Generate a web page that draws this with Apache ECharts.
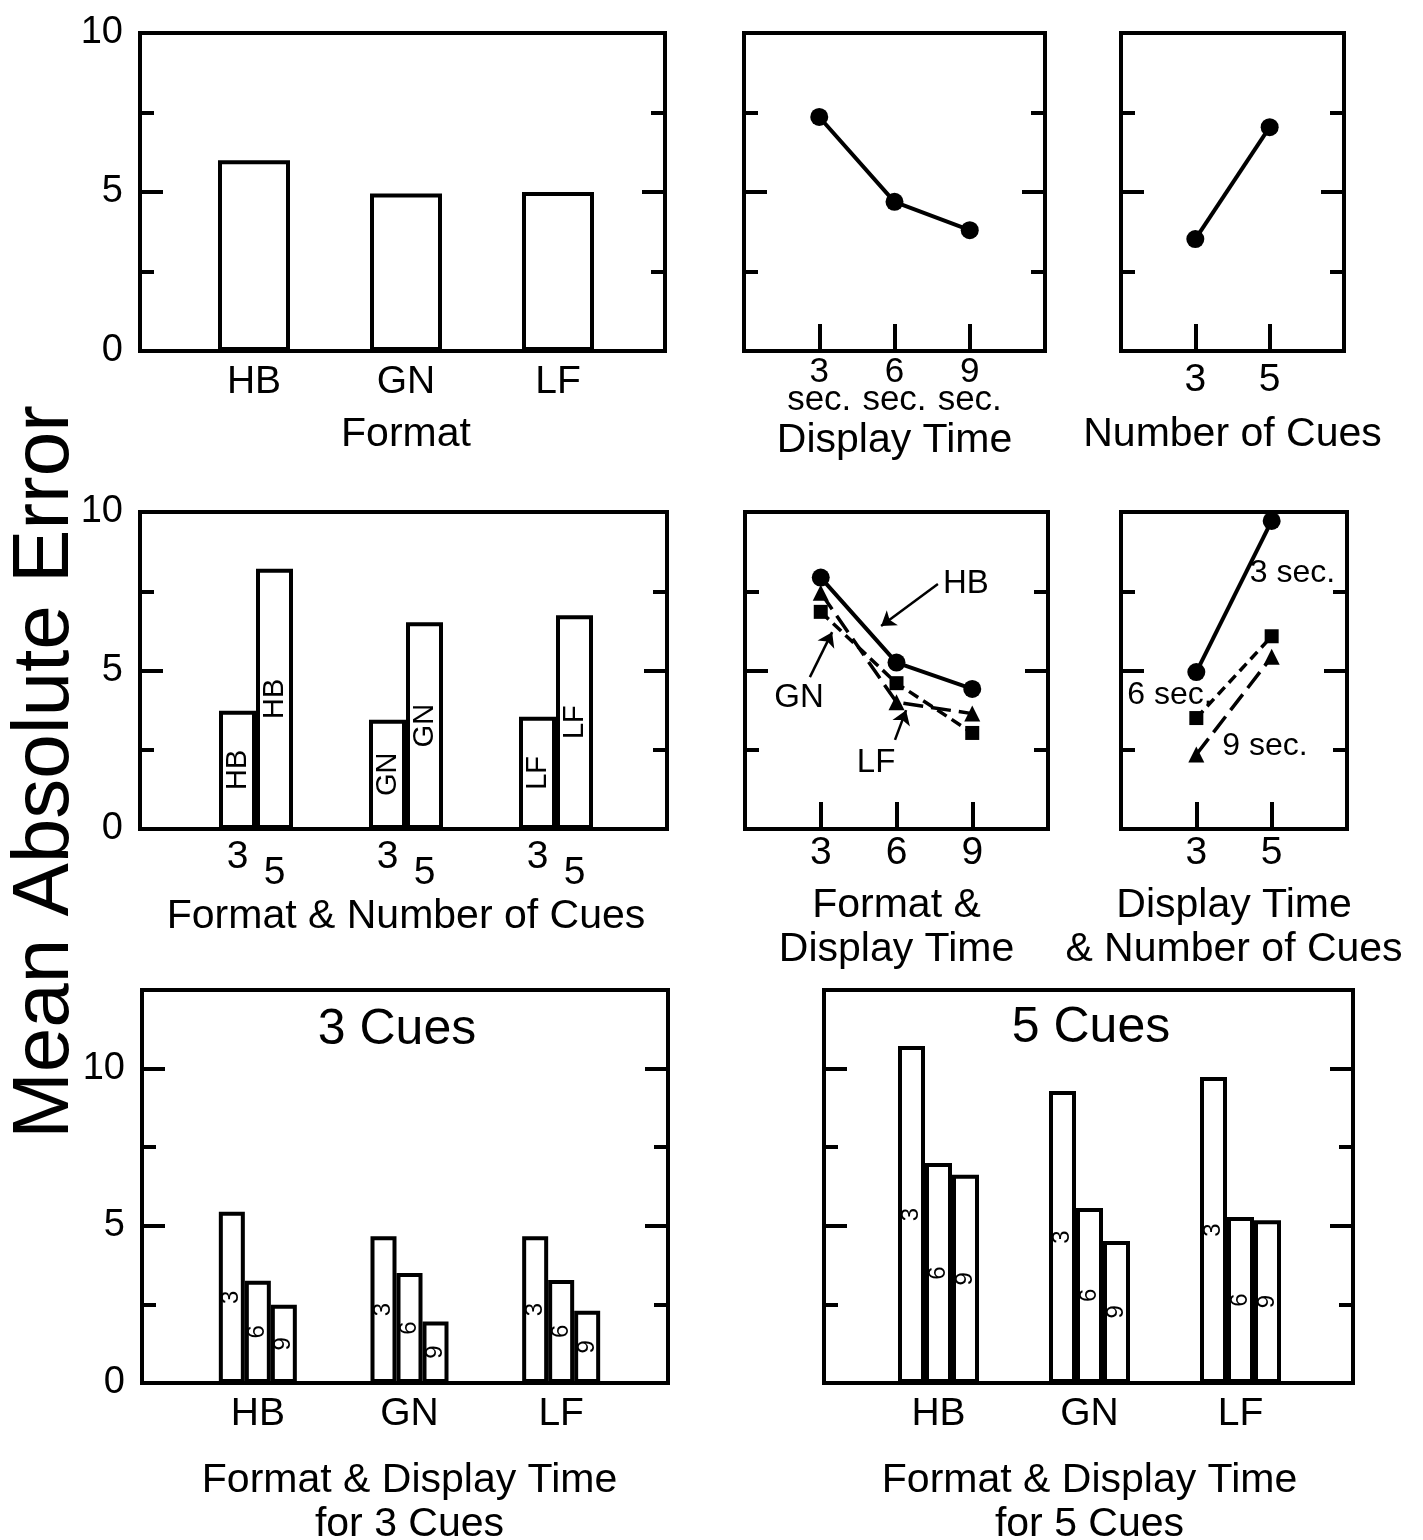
<!DOCTYPE html>
<html>
<head>
<meta charset="utf-8">
<title>Mean Absolute Error</title>
<script src="https://cdn.jsdelivr.net/npm/echarts@6.0.0/dist/echarts.min.js"></script>
<style>
  html, body { margin: 0; padding: 0; background: #fff; }
  #chart { width: 1423px; height: 1540px; }
</style>
</head>
<body>
<div id="chart"></div>
<script>
// ---- values ----
const formats = ["HB", "GN", "LF"];
const displayTimes = [3, 6, 9];
const cueCounts = [3, 5];
const yTickLabels = [0, 5, 10];

// row 1
const errorByFormat = [6.0, 4.95, 5.0];
const errorByTime = [7.36, 4.69, 3.8];
const errorByCues = [3.52, 7.04];

// row 2
const errorFormat3Cues = [3.73, 3.45, 3.54];
const errorFormat5Cues = [8.21, 6.52, 6.74];
const errorTimeHB = [7.93, 5.25, 4.42];
const errorTimeGN = [6.85, 4.6, 3.03];
const errorTimeLF = [7.45, 4.0, 3.64];
const errorCues3Sec = [4.95, 9.72];
const errorCues6Sec = [3.5, 6.08];
const errorCues9Sec = [2.35, 5.43];

// row 3 (one array per display time, indexed by format)
const cues3Time3 = [5.45, 4.67, 4.67];
const cues3Time6 = [3.25, 3.5, 3.28];
const cues3Time9 = [2.49, 1.96, 2.3];
const cues5Time3 = [10.72, 9.29, 9.73];
const cues5Time6 = [7.0, 5.57, 5.28];
const cues5Time9 = [6.62, 4.52, 5.18];

// ---- helpers ----
const FONT = '"Liberation Sans", Arial, Helvetica, sans-serif';
const INK = "#000";
const RULE = 4; // frame, bar outline and tick thickness

const grid = [];
const xAxis = [];
const yAxis = [];
const series = [];

const nameStyle = { color: INK, fontFamily: FONT, fontSize: 41, lineHeight: 44 };
const tickLabelStyle = { color: INK, fontFamily: FONT, fontSize: 39, lineHeight: 40 };
const barStyle = { color: "#fff", borderColor: INK, borderWidth: RULE };

function addGrid(left, top, width, height, framed) {
  grid.push({
    left, top, width, height,
    show: framed, borderColor: INK, borderWidth: RULE, backgroundColor: "transparent",
    containLabel: false, outerBoundsMode: "none",
  });
  return grid.length - 1;
}

// major ticks every 5 (labels on the left when asked), minor ticks at 2.5 / 7.5, both sides
function addFrameY(g, ymax, labels) {
  const first = yAxis.length;
  ["left", "right"].forEach((pos) => {
    yAxis.push({
      gridIndex: g, type: "value", position: pos, min: 0, max: ymax, interval: 5,
      axisLine: { show: false }, splitLine: { show: false },
      axisTick: { inside: true, length: 23, lineStyle: { color: INK, width: RULE } },
      axisLabel: {
        show: labels && pos === "left", margin: 17, ...tickLabelStyle, fontSize: 38,
        formatter: (v) => (yTickLabels.includes(v) ? String(v) : ""),
      },
    });
    yAxis.push({
      gridIndex: g, type: "value", position: pos, min: 0, max: ymax,
      axisLine: { show: false }, splitLine: { show: false }, axisLabel: { show: false },
      axisTick: { inside: true, length: 14, customValues: [2.5, 7.5], lineStyle: { color: INK, width: RULE } },
    });
  });
  return first;
}

function addHiddenX(g) {
  xAxis.push({ gridIndex: g, type: "value", show: false, min: 0, max: 1 });
  return xAxis.length - 1;
}

function addHiddenY(g, ymax) {
  yAxis.push({ gridIndex: g, type: "value", show: false, min: 0, max: ymax });
  return yAxis.length - 1;
}

function addCategoryX(g, label, name, nameGap) {
  xAxis.push({
    gridIndex: g, type: "category", position: "bottom", data: formats,
    axisLine: { show: false }, axisTick: { show: false }, splitLine: { show: false },
    axisLabel: { ...tickLabelStyle, ...label },
    name: name || "", nameLocation: "middle", nameGap: nameGap || 0, nameTextStyle: nameStyle,
  });
  return xAxis.length - 1;
}

function addValueX(g, min, max, ticks, label, name, nameGap) {
  xAxis.push({
    gridIndex: g, type: "value", position: "bottom", min, max,
    axisLine: { show: false }, splitLine: { show: false },
    axisTick: { inside: true, length: 27, customValues: ticks, lineStyle: { color: INK, width: RULE } },
    axisLabel: { customValues: ticks, ...tickLabelStyle, ...label },
    name, nameLocation: "middle", nameGap, nameTextStyle: nameStyle,
  });
  return xAxis.length - 1;
}

function lineSeries(xi, yi, xs, ys, symbol, size, dash, width) {
  return {
    type: "line", xAxisIndex: xi, yAxisIndex: yi,
    data: xs.map((x, i) => [x, ys[i]]),
    symbol, symbolSize: size, showSymbol: true,
    lineStyle: { color: INK, width: width || 3.5, type: dash || "solid" },
    itemStyle: { color: INK },
  };
}

function barLabels(size, texts) {
  return {
    show: true, position: "inside", rotate: 90, color: INK, fontFamily: FONT, fontSize: size,
    formatter: (p) => texts[p.dataIndex],
  };
}

function textMark(name, coord, size) {
  return {
    symbol: "circle", symbolSize: 1, itemStyle: { color: "rgba(0,0,0,0)" },
    label: { show: true, position: "inside", color: INK, fontFamily: FONT, fontSize: size, formatter: "{b}" },
    data: [{ name, coord }],
  };
}

function arrowMark(from, to) {
  return {
    silent: true, symbol: ["none", "arrow"], symbolSize: 14,
    lineStyle: { color: INK, width: 2.5, type: "solid" }, label: { show: false },
    data: [[{ coord: from }, { coord: to }]],
  };
}

// ---- row 1 ----
// Format
const gA = addGrid(140, 33, 525, 318, true);
addFrameY(gA, 10, true);
addHiddenX(gA);
const gAi = addGrid(178, 33, 456, 318, false);
const xA = addCategoryX(gAi, { margin: 11 }, "Format", 62);
const yA = addHiddenY(gAi, 10);
series.push({ type: "bar", xAxisIndex: xA, yAxisIndex: yA, data: errorByFormat, barWidth: 72, itemStyle: barStyle });

// Display Time
const gB = addGrid(744, 33, 301, 318, true);
const yB = addFrameY(gB, 10, false);
const xB = addValueX(gB, 0, 12, displayTimes,
  { fontSize: 35, lineHeight: 28, margin: 7, formatter: (v) => v + "\nsec." }, "Display Time", 62);
series.push(lineSeries(xB, yB, displayTimes, errorByTime, "circle", 18, "solid", 4));

// Number of Cues
const gC = addGrid(1121, 33, 223, 318, true);
const yC = addFrameY(gC, 10, false);
const xC = addValueX(gC, 1, 7, cueCounts, { margin: 9 }, "Number of Cues", 62);
series.push(lineSeries(xC, yC, cueCounts, errorByCues, "circle", 18, "solid", 4));

// ---- row 2 ----
// Format & Number of Cues
const gD = addGrid(140, 512, 527, 317, true);
addFrameY(gD, 10, true);
addHiddenX(gD);
const gDi = addGrid(181, 512, 450, 317, false);
const xD = addCategoryX(gDi, { margin: 8, padding: [0, 37, 0, 0], formatter: () => String(cueCounts[0]) },
  "Format & Number of Cues", 66);
addCategoryX(gDi, { margin: 8, padding: [16, 0, 0, 37], formatter: () => String(cueCounts[1]) });
const yD = addHiddenY(gDi, 10);
series.push({
  type: "bar", xAxisIndex: xD, yAxisIndex: yD, data: errorFormat3Cues, barWidth: 37, barGap: "0%",
  itemStyle: barStyle, label: barLabels(29, formats),
});
series.push({
  type: "bar", xAxisIndex: xD, yAxisIndex: yD, data: errorFormat5Cues, barWidth: 37, barGap: "0%",
  itemStyle: barStyle, label: barLabels(29, formats),
});

// Format & Display Time
const gE = addGrid(745, 512, 303, 317, true);
const yE = addFrameY(gE, 10, false);
const xE = addValueX(gE, 0, 12, displayTimes, { margin: 4 }, "Format &\nDisplay Time", 55);
const hbLine = lineSeries(xE, yE, displayTimes, errorTimeHB, "circle", 18, "solid", 4);
hbLine.markPoint = textMark("HB", [8.75, 7.73], 33);
hbLine.markLine = arrowMark([7.64, 7.73], [5.39, 6.4]);
const gnLine = lineSeries(xE, yE, displayTimes, errorTimeGN, "rect", 14, [11, 6]);
gnLine.markPoint = textMark("GN", [2.14, 4.13], 33);
gnLine.markLine = arrowMark([2.57, 4.79], [3.45, 6.21]);
const lfLine = lineSeries(xE, yE, displayTimes, errorTimeLF, "triangle", 16, [20, 8]);
lfLine.markPoint = textMark("LF", [5.19, 2.08], 33);
lfLine.markLine = arrowMark([5.94, 2.81], [6.38, 3.75]);
series.push(hbLine, gnLine, lfLine);

// Display Time & Number of Cues
const gF = addGrid(1121, 512, 226, 317, true);
const yF = addFrameY(gF, 10, false);
const xF = addValueX(gF, 1, 7, cueCounts, { margin: 4 }, "Display Time\n& Number of Cues", 55);
const sec3Line = lineSeries(xF, yF, cueCounts, errorCues3Sec, "circle", 18, "solid", 4);
sec3Line.markPoint = textMark("3 sec.", [5.55, 8.08], 32);
const sec6Line = lineSeries(xF, yF, cueCounts, errorCues6Sec, "rect", 14, [10, 6]);
sec6Line.markPoint = textMark("6 sec.", [2.3, 4.23], 32);
const sec9Line = lineSeries(xF, yF, cueCounts, errorCues9Sec, "triangle", 16, [20, 8]);
sec9Line.markPoint = textMark("9 sec.", [4.82, 2.62], 32);
series.push(sec3Line, sec6Line, sec9Line);

// ---- row 3 ----
const timeNames = displayTimes.map(String);

function timeBars(xi, yi, rows, width) {
  rows.forEach((row, k) => {
    series.push({
      type: "bar", xAxisIndex: xi, yAxisIndex: yi, data: row, barWidth: width, barGap: "0%",
      itemStyle: barStyle, label: barLabels(24, formats.map(() => timeNames[k])),
    });
  });
}

// 3 cues
const gG = addGrid(142, 990, 526, 393, true);
addFrameY(gG, 12.5, true);
addHiddenX(gG);
const gGi = addGrid(182, 990, 455, 393, false);
const xG = addCategoryX(gGi, { margin: 11 }, "Format & Display Time\nfor 3 Cues", 76);
const yG = addHiddenY(gGi, 12.5);
timeBars(xG, yG, [cues3Time3, cues3Time6, cues3Time9], 26);

// 5 cues
const gH = addGrid(824, 990, 529, 393, true);
addFrameY(gH, 12.5, false);
addHiddenX(gH);
const gHi = addGrid(863, 990, 453, 393, false);
const xH = addCategoryX(gHi, { margin: 11 }, "Format & Display Time\nfor 5 Cues", 76);
const yH = addHiddenY(gHi, 12.5);
timeBars(xH, yH, [cues5Time3, cues5Time6, cues5Time9], 27);

// ---- chart ----
const chart = echarts.init(document.getElementById("chart"), null, { renderer: "canvas" });
chart.setOption({
  animation: false,
  backgroundColor: "#fff",
  grid,
  xAxis,
  yAxis,
  series,
  graphic: [
    {
      type: "text", x: 46, y: 772, rotation: Math.PI / 2,
      style: { text: "Mean Absolute Error", fill: INK, font: "80px " + FONT, align: "center", verticalAlign: "middle" },
    },
    {
      type: "text", x: 397, y: 1030,
      style: { text: "3 Cues", fill: INK, font: "50px " + FONT, align: "center", verticalAlign: "middle" },
    },
    {
      type: "text", x: 1091, y: 1028,
      style: { text: "5 Cues", fill: INK, font: "50px " + FONT, align: "center", verticalAlign: "middle" },
    },
  ],
});
</script>
</body>
</html>
